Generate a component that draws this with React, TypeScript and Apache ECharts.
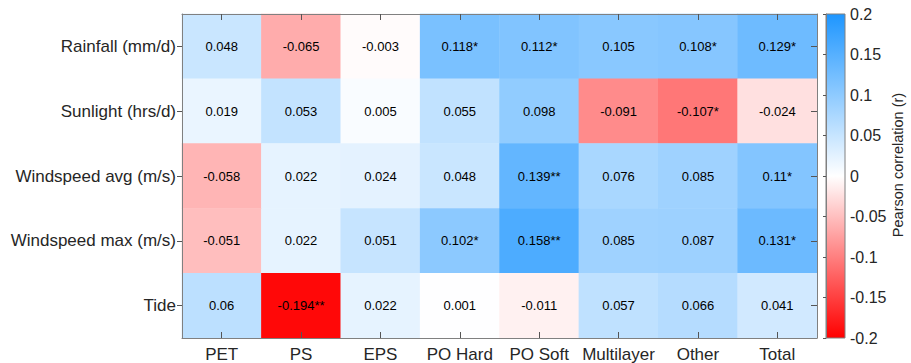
import React, { useEffect, useRef } from "react";
import * as echarts from "echarts";

const categories = ["PET", "PS", "EPS", "PO Hard", "PO Soft", "Multilayer", "Other", "Total"];
const variables = ["Rainfall (mm/d)", "Sunlight (hrs/d)", "Windspeed avg (m/s)", "Windspeed max (m/s)", "Tide"];

const rainfall = [0.048, -0.065, -0.003, 0.118, 0.112, 0.105, 0.108, 0.129];
const rainfallSig = ["", "", "", "*", "*", "", "*", "*"];
const sunlight = [0.019, 0.053, 0.005, 0.055, 0.098, -0.091, -0.107, -0.024];
const sunlightSig = ["", "", "", "", "", "", "*", ""];
const windAvg = [-0.058, 0.022, 0.024, 0.048, 0.139, 0.076, 0.085, 0.11];
const windAvgSig = ["", "", "", "", "**", "", "", "*"];
const windMax = [-0.051, 0.022, 0.051, 0.102, 0.158, 0.085, 0.087, 0.131];
const windMaxSig = ["", "", "", "*", "**", "", "", "*"];
const tide = [0.06, -0.194, 0.022, 0.001, -0.011, 0.057, 0.066, 0.041];
const tideSig = ["", "**", "", "", "", "", "", ""];

const rows = [rainfall, sunlight, windAvg, windMax, tide];
const sigs = [rainfallSig, sunlightSig, windAvgSig, windMaxSig, tideSig];

const colorMin = -0.2;
const colorMax = 0.2;
const colorStep = 0.05;
const colorTitle = "Pearson correlation (r)";

const RED = "#ff0000";
const WHITE = "#ffffff";
const BLUE = "#1e96ff";
const FONT = "Liberation Sans, Arial, sans-serif";
const AXIS_GRAY = "#808080";
const TEXT = "#262626";

export default function App() {
  const ref = useRef<HTMLDivElement>(null);

  useEffect(() => {
    document.body.style.margin = "0";
    if (!ref.current) return;
    const chart = echarts.init(ref.current, undefined, { renderer: "svg" });

    const data: any[] = [];
    rows.forEach((row, yi) => {
      row.forEach((v, xi) => {
        data.push([xi, yi, v, String(v) + sigs[yi][xi]]);
      });
    });

    const plot = { left: 182, top: 14, width: 635, height: 324 };
    const bar = { left: 826, top: 14, width: 19, height: 324 };

    const option: any = {
      animation: false,
      backgroundColor: "#ffffff",
      textStyle: { fontFamily: FONT },
      grid: [
        { ...plot, containLabel: false },
        { ...bar, containLabel: false },
      ],
      visualMap: {
        show: false,
        type: "continuous",
        min: colorMin,
        max: colorMax,
        dimension: 2,
        seriesIndex: 0,
        inRange: { color: [RED, WHITE, BLUE] },
      },
      xAxis: [
        {
          type: "category",
          gridIndex: 0,
          position: "bottom",
          data: categories,
          axisLine: { show: true, lineStyle: { color: AXIS_GRAY, width: 1 } },
          axisTick: { show: true, alignWithLabel: true, inside: true, length: 6, lineStyle: { color: "#555" } },
          axisLabel: { fontSize: 17, color: TEXT, margin: 8, fontFamily: FONT, interval: 0, hideOverlap: false },
          splitLine: { show: false },
          z: 10,
        },
        {
          type: "category",
          gridIndex: 0,
          position: "top",
          data: categories,
          axisLine: { show: true, lineStyle: { color: AXIS_GRAY, width: 1 } },
          axisTick: { show: true, alignWithLabel: true, inside: true, length: 6, interval: 0, lineStyle: { color: "#555" } },
          axisLabel: { show: false, interval: 0 },
          splitLine: { show: false },
          z: 10,
        },
        {
          type: "value",
          gridIndex: 1,
          min: 0,
          max: 1,
          show: false,
        },
      ],
      yAxis: [
        {
          type: "category",
          gridIndex: 0,
          position: "left",
          inverse: true,
          data: variables,
          axisLine: { show: true, lineStyle: { color: AXIS_GRAY, width: 1 } },
          axisTick: { show: true, alignWithLabel: true, inside: false, length: 5, lineStyle: { color: "#555" } },
          axisLabel: { fontSize: 17, color: TEXT, margin: 6, fontFamily: FONT, interval: 0 },
          splitLine: { show: false },
          z: 10,
        },
        {
          type: "category",
          gridIndex: 0,
          position: "right",
          inverse: true,
          data: variables,
          axisLine: { show: true, lineStyle: { color: AXIS_GRAY, width: 1 } },
          axisTick: { show: true, alignWithLabel: true, inside: true, length: 6, interval: 0, lineStyle: { color: "#555" } },
          axisLabel: { show: false, interval: 0 },
          splitLine: { show: false },
          z: 10,
        },
        {
          type: "value",
          gridIndex: 1,
          position: "right",
          min: colorMin,
          max: colorMax,
          interval: colorStep,
          axisLine: { show: true, lineStyle: { color: AXIS_GRAY, width: 1 } },
          axisTick: { show: true, inside: true, length: 3, lineStyle: { color: "#555" } },
          axisLabel: {
            fontSize: 16,
            color: TEXT,
            margin: 5,
            fontFamily: FONT,
            formatter: (v: number) => String(Math.round(v * 100) / 100),
          },
          splitLine: { show: false },
          z: 10,
        },
      ],
      graphic: [
        {
          type: "rect",
          z: 1,
          shape: { x: bar.left, y: bar.top, width: bar.width, height: bar.height },
          style: {
            fill: new echarts.graphic.LinearGradient(0, 0, 0, 1, [
              { offset: 0, color: BLUE },
              { offset: 0.5, color: WHITE },
              { offset: 1, color: RED },
            ]),
            stroke: AXIS_GRAY,
            lineWidth: 1,
          },
        },
        {
          type: "text",
          z: 5,
          x: 898,
          y: 165,
          rotation: Math.PI / 2,
          style: {
            text: colorTitle,
            font: `14.5px ${FONT}`,
            fill: TEXT,
            align: "center",
            verticalAlign: "middle",
          },
        },
      ],
      series: [
        {
          type: "heatmap",
          xAxisIndex: 0,
          yAxisIndex: 0,
          data,
          label: {
            show: true,
            fontSize: 13,
            color: "#000",
            fontFamily: FONT,
            formatter: (p: any) => p.data[3],
          },
          itemStyle: { borderWidth: 0 },
          emphasis: { disabled: true },
        },
        {
          type: "scatter",
          xAxisIndex: 2,
          yAxisIndex: 2,
          data: [],
        },
      ],
    };

    chart.setOption(option);
    return () => chart.dispose();
  }, []);

  return <div ref={ref} style={{ width: 911, height: 363 }} />;
}
